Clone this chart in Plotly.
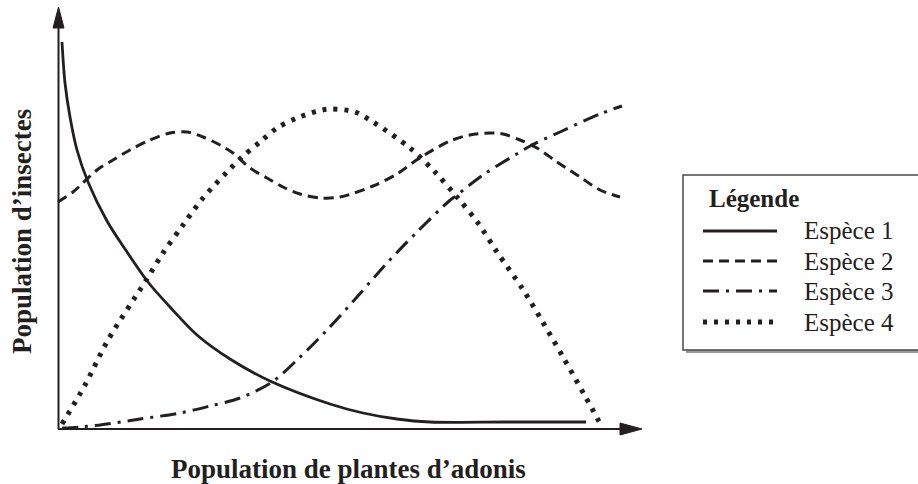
import plotly.graph_objects as go

# ---- data (x = plant population, y = insect population, arbitrary units)
x_sp1 = [4, 7, 12, 19, 30, 49, 67, 90, 112, 139, 172, 212, 272, 305, 339, 372, 450, 528]
y_sp1 = [387, 346, 312, 279, 247, 208, 180, 147, 122, 94, 70, 48, 25, 16, 10, 7, 7, 7]

x_sp2 = [0, 15, 39, 55, 72, 92, 112, 129, 145, 162, 175, 192, 209, 225, 242, 262, 282, 315, 339,
         360, 392, 412, 432, 445, 462, 479, 499, 522, 542, 562]
y_sp2 = [227, 237, 259, 269, 279, 289, 296, 297, 292, 284, 276, 261, 251, 242, 235, 231, 232, 243, 255,
         270, 288, 294, 296, 295, 289, 281, 267, 252, 239, 232]

x_sp3 = [4, 22, 42, 82, 122, 152, 182, 214, 239, 269, 299, 329, 359, 390, 399, 425, 462, 474, 502, 542, 564]
y_sp3 = [1, 2, 4, 10, 16, 23, 31, 47, 69, 99, 132, 166, 197, 227, 234, 254, 277, 284, 297, 315, 323]

x_sp4 = [4, 27, 50, 87, 105, 125, 145, 169, 184, 202, 219, 239, 260, 272, 297, 315, 352, 377, 399,
         420, 439, 464, 477, 505, 527, 544]
y_sp4 = [5, 44, 89, 147, 176, 204, 231, 257, 272, 287, 301, 311, 318, 320, 317, 307, 281, 257, 232,
         206, 177, 141, 120, 72, 33, 2]

series_names = ["Espèce 1", "Espèce 2", "Espèce 3", "Espèce 4"]
x_title = "Population de plantes d’adonis"
y_title = "Population d’insectes"
legend_title = "Légende"

# ---- styles
INK = "#231f20"
FONT = "Liberation Serif"
styles = [
    dict(width=2.8, dash="solid"),
    dict(width=3.0, dash="10px,6px"),
    dict(width=3.0, dash="16px,7px,3px,7px"),
    dict(width=5.0, dash="4px,7px"),
]

W, H = 918, 484
ML, MR, MT, MB = 40, 268, 2, 44
PW, PH = W - ML - MR, H - MT - MB
X0 = 58  # pixel of x = 0
Y0 = 429  # pixel of y = 0


def pxx(p):
    return (p - ML) / PW


def pxy(p):
    return (H - MB - p) / PH


fig = go.Figure()
for name, xs, ys, st in zip(series_names, [x_sp1, x_sp2, x_sp3, x_sp4],
                            [y_sp1, y_sp2, y_sp3, y_sp4], styles):
    fig.add_trace(go.Scatter(
        x=xs, y=ys, mode="lines", name=name, showlegend=False,
        line=dict(color=INK, width=st["width"], dash=st["dash"], shape="spline", smoothing=0.9),
        hoverinfo="skip",
    ))

shapes = []
# axes with arrows (data coordinates)
shapes.append(dict(type="line", xref="x", yref="y", x0=0, y0=0, x1=566, y1=0,
                   line=dict(color=INK, width=2)))
shapes.append(dict(type="path", xref="x", yref="y", path="M 562,6 L 584,0 L 562,-6 Z",
                   fillcolor=INK, line=dict(color=INK, width=1)))
shapes.append(dict(type="line", xref="x", yref="y", x0=0.5, y0=0, x1=0.5, y1=404,
                   line=dict(color=INK, width=2)))
shapes.append(dict(type="path", xref="x", yref="y", path="M -5,401 L 0.5,422 L 6,401 Z",
                   fillcolor=INK, line=dict(color=INK, width=1)))

# legend box (paper coordinates) with shadow
shapes.append(dict(type="rect", xref="paper", yref="paper",
                   x0=pxx(686), x1=pxx(930), y0=pxy(353), y1=pxy(178),
                   fillcolor="#9a9a9a", line=dict(width=0), layer="below"))
shapes.append(dict(type="rect", xref="paper", yref="paper",
                   x0=pxx(683), x1=pxx(928), y0=pxy(350), y1=pxy(175),
                   fillcolor="white", line=dict(color="#4a4a4a", width=1.5)))
row_y = [231, 261, 291, 322]
for st, ry in zip(styles, row_y):
    shapes.append(dict(type="line", xref="paper", yref="paper",
                       x0=pxx(703), x1=pxx(777), y0=pxy(ry), y1=pxy(ry),
                       line=dict(color=INK, width=st["width"], dash=st["dash"])))

annotations = [
    dict(text=f"<b>{x_title}</b>", xref="paper", yref="paper", x=pxx(348), y=pxy(469),
         xanchor="center", yanchor="middle", showarrow=False,
         font=dict(family=FONT, size=27, color=INK)),
    dict(text=f"<b>{y_title}</b>", xref="paper", yref="paper", x=pxx(22), y=pxy(232),
         xanchor="center", yanchor="middle", showarrow=False, textangle=-90,
         font=dict(family=FONT, size=27, color=INK)),
    dict(text=f"<b>{legend_title}</b>", xref="paper", yref="paper", x=pxx(707), y=pxy(198),
         xanchor="left", yanchor="middle", showarrow=False,
         font=dict(family=FONT, size=25, color=INK)),
]
for name, ry in zip(series_names, row_y):
    annotations.append(dict(text=name, xref="paper", yref="paper", x=pxx(802), y=pxy(ry),
                            xanchor="left", yanchor="middle", showarrow=False,
                            font=dict(family=FONT, size=25, color=INK)))

fig.update_layout(
    width=W, height=H,
    margin=dict(l=ML, r=MR, t=MT, b=MB, pad=0),
    paper_bgcolor="white", plot_bgcolor="white",
    xaxis=dict(range=[ML - X0, ML - X0 + PW], visible=False, fixedrange=True),
    yaxis=dict(range=[Y0 - (H - MB), Y0 - (H - MB) + PH], visible=False, fixedrange=True),
    shapes=shapes, annotations=annotations,
    font=dict(family=FONT, color=INK),
)

fig.write_html("out.html", config={"displayModeBar": False},
               post_script="document.body.style.margin='0px';document.body.style.overflow='hidden';")
